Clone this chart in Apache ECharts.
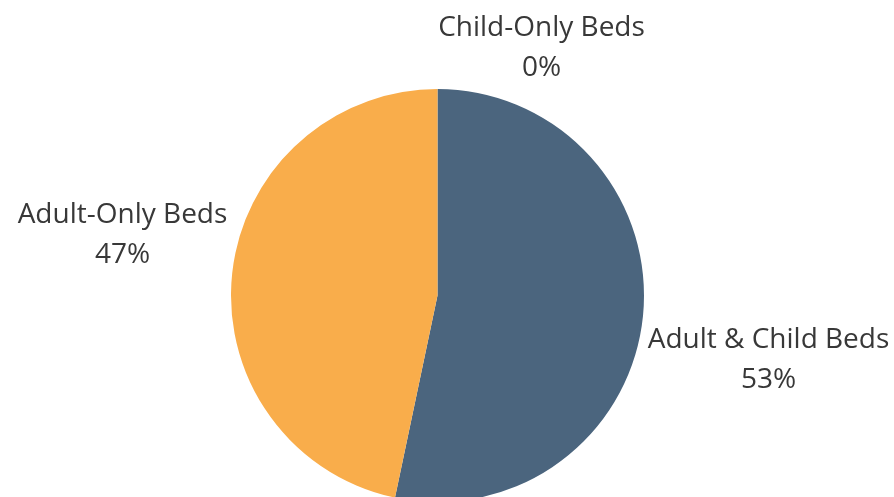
<!DOCTYPE html>
<html>
<head>
<meta charset="utf-8">
<script src="https://cdn.jsdelivr.net/npm/echarts@6/dist/echarts.min.js"></script>
<style>
  html, body { margin: 0; padding: 0; background: #fff; }
  #chart { width: 894px; height: 497px; }
</style>
</head>
<body>
<div id="chart"></div>
<script>
// Data
const categories = ['Child-Only Beds', 'Adult & Child Beds', 'Adult-Only Beds'];
const values = [0, 53.3, 46.7];
const colors = ['#6f8fb0', '#4b657e', '#f9ad4b'];

// Label anchor offsets from the pie centre (layout, not data)
const labelOffsets = [[104, -247.5], [331, 64.5], [-315, -60]];
const pieCenter = [437.5, 295.5];

const chart = echarts.init(document.getElementById('chart'));
chart.setOption({
  animation: false,
  series: [{
    type: 'pie',
    center: pieCenter,
    radius: 206.5,
    startAngle: 90,
    clockwise: true,
    avoidLabelOverlap: false,
    percentPrecision: 0,
    minShowLabelAngle: 0,
    emphasis: { disabled: true },
    itemStyle: { borderWidth: 0 },
    label: {
      show: true,
      position: 'outside',
      formatter: '{b}\n{d}%',
      fontFamily: 'Open Sans',
      fontSize: 28,
      lineHeight: 40,
      color: '#383838',
      align: 'center'
    },
    labelLine: { show: false },
    labelLayout: function (params) {
      const off = labelOffsets[params.dataIndex];
      return {
        x: pieCenter[0] + off[0],
        y: pieCenter[1] + off[1],
        align: 'center',
        verticalAlign: 'middle'
      };
    },
    data: categories.map((name, i) => ({
      name: name,
      value: values[i],
      itemStyle: { color: colors[i] }
    }))
  }]
});
</script>
</body>
</html>
